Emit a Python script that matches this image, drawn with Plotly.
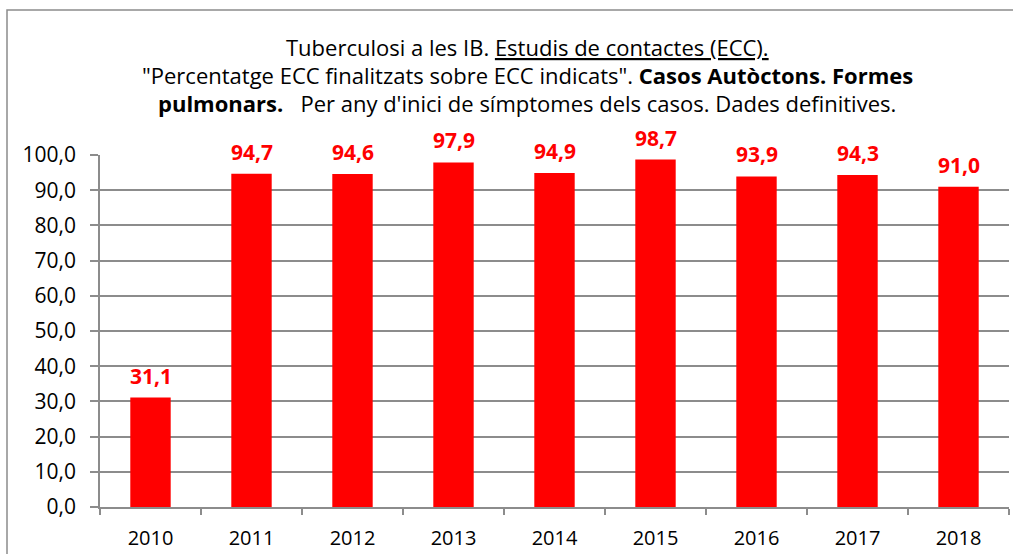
import plotly.graph_objects as go

years = ["2010", "2011", "2012", "2013", "2014", "2015", "2016", "2017", "2018"]
values = [31.1, 94.7, 94.6, 97.9, 94.9, 98.7, 93.9, 94.3, 91.0]
labels = ["31,1", "94,7", "94,6", "97,9", "94,9", "98,7", "93,9", "94,3", "91,0"]
ytick_vals = [0, 10, 20, 30, 40, 50, 60, 70, 80, 90, 100]
ytick_text = ["0,0", "10,0", "20,0", "30,0", "40,0", "50,0", "60,0", "70,0", "80,0", "90,0", "100,0"]

title_lines = [
    "Tuberculosi a les IB. <u>Estudis de contactes (ECC).</u>",
    "\"Percentatge ECC finalitzats sobre ECC indicats\". <b>Casos Autòctons. Formes</b>",
    "<b>pulmonars.</b>   Per any d'inici de símptomes dels casos. Dades definitives.",
]

FONT = "Open Sans"
GRID = "#8c8c8c"

fig = go.Figure()
fig.add_trace(go.Bar(x=years, y=values, marker=dict(color="#FF0000", line=dict(width=0)),
                     hoverinfo="skip", cliponaxis=False))

W, H = 1013, 554
L, R, T, B = 100, 4, 155, 47
pw = W - L - R
ph = H - T - B

annotations = []
for i, (v, lab) in enumerate(zip(values, labels)):
    annotations.append(dict(x=i, y=v, xref="x", yref="y", text=lab, showarrow=False,
                            xanchor="center", yanchor="middle", yshift=22,
                            font=dict(family=FONT, size=21, color="#FF0000", weight="bold")))

title_y_px = [47, 75, 103]
for line, ypx in zip(title_lines, title_y_px):
    annotations.append(dict(x=(527 - L) / pw, y=(H - B - ypx) / ph, xref="paper", yref="paper",
                            text=line, showarrow=False, xanchor="center", yanchor="middle",
                            font=dict(family=FONT, size=22, color="#000000")))

fig.update_layout(
    width=W, height=H,
    margin=dict(l=L, r=R, t=T, b=B, autoexpand=False),
    paper_bgcolor="white", plot_bgcolor="white",
    showlegend=False,
    bargap=0.6,
    font=dict(family=FONT, size=20, color="#000000"),
    annotations=annotations,
    shapes=[dict(type="rect", xref="paper", yref="paper",
                 x0=(7 - L) / pw, x1=1.2, y0=-0.5, y1=(H - B - 10) / ph,
                 line=dict(color=GRID, width=1.5), fillcolor="rgba(0,0,0,0)", layer="below")],
    xaxis=dict(type="category", categoryorder="array", categoryarray=years,
               range=[-0.5, len(years) - 0.5], autorange=False,
               showline=True, linecolor=GRID, linewidth=1.5,
               ticks="outside", tickson="boundaries", ticklen=6, tickcolor=GRID, tickwidth=1.5,
               ticklabelstandoff=12,
               showgrid=False, tickangle=0, tickfont=dict(family=FONT, size=20, color="#000000"),
               fixedrange=True),
    yaxis=dict(range=[0, 100], tickvals=ytick_vals, ticktext=ytick_text,
               showline=True, linecolor=GRID, linewidth=1.5,
               ticks="outside", ticklen=8, tickcolor=GRID, tickwidth=1.5,
               ticklabelstandoff=10,
               showgrid=True, gridcolor=GRID, gridwidth=1.5, zeroline=False,
               tickfont=dict(family=FONT, size=21, color="#000000"), fixedrange=True),
)

fig.write_html("out.html", config={"displayModeBar": False},
               post_script="document.body.style.margin='0';")
